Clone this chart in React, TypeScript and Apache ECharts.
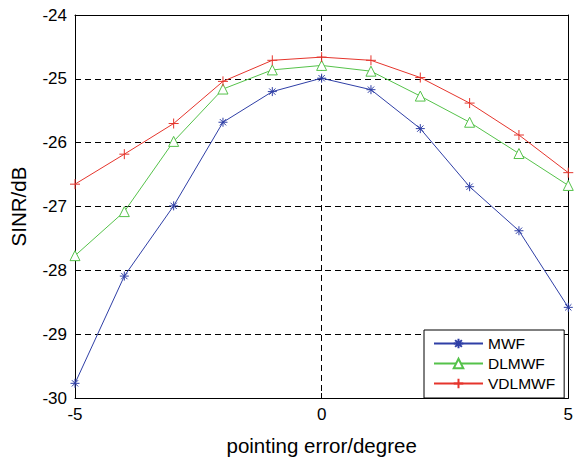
import React, { useEffect, useRef } from "react";
import * as echarts from "echarts";

const xValues = [-5, -4, -3, -2, -1, 0, 1, 2, 3, 4, 5];
const mwf = [-29.77, -28.09, -26.99, -25.68, -25.2, -24.99, -25.17, -25.78, -26.69, -27.38, -28.58];
const dlmwf = [-27.77, -27.08, -25.98, -25.16, -24.86, -24.79, -24.88, -25.27, -25.68, -26.17, -26.67];
const vdlmwf = [-26.65, -26.18, -25.7, -25.04, -24.71, -24.66, -24.71, -24.98, -25.38, -25.88, -26.47];
const seriesNames = ["MWF", "DLMWF", "VDLMWF"];

const FONT = "Liberation Sans, Arial, Helvetica, sans-serif";
const asterisk = "path://M5,0L5,10M0,5L10,5M1.5,1.5L8.5,8.5M1.5,8.5L8.5,1.5";
const plus = "path://M5,0L5,10M0,5L10,5";

export default function App() {
  const ref = useRef<HTMLDivElement>(null);
  useEffect(() => {
    if (!ref.current) return;
    const chart = echarts.init(ref.current, undefined, { renderer: "svg" });
    const pair = (ys: number[]) => xValues.map((x, i) => [x, ys[i]]);
    const axisLine = { show: true, onZero: false, lineStyle: { color: "#000", width: 1 } };
    const tick = { show: true, inside: true, length: 5, lineStyle: { color: "#000" } };
    const split = { show: true, lineStyle: { color: "#000", type: [6, 4] as any, width: 1 } };
    const mk = (name: string, data: number[], color: string, symbol: string, size: number, hollow: boolean) => ({
      name,
      type: "line",
      data: pair(data),
      symbol,
      symbolSize: size,
      showAllSymbol: true,
      lineStyle: { color, width: 1 },
      itemStyle: { color: hollow ? "#fff" : color, borderColor: color, borderWidth: 1 },
      emphasis: { disabled: true },
    });
    chart.setOption({
      animation: false,
      backgroundColor: "#fff",
      textStyle: { fontFamily: FONT },
      grid: { left: 75, top: 15, right: 7, bottom: 58, containLabel: false },
      xAxis: [
        {
          type: "value",
          min: -5,
          max: 5,
          interval: 5,
          position: "bottom",
          axisLine,
          axisTick: tick,
          splitLine: split,
          axisLabel: { color: "#000", fontSize: 17, margin: 8, fontFamily: FONT },
          name: "pointing error/degree",
          nameLocation: "middle",
          nameGap: 37,
          nameTextStyle: { color: "#000", fontSize: 20.5, fontFamily: FONT },
        },
        {
          type: "value",
          min: -5,
          max: 5,
          interval: 5,
          position: "top",
          axisLine,
          axisTick: tick,
          splitLine: { show: false },
          axisLabel: { show: false },
        },
      ],
      yAxis: [
        {
          type: "value",
          min: -30,
          max: -24,
          interval: 1,
          position: "left",
          axisLine,
          axisTick: tick,
          splitLine: split,
          axisLabel: { color: "#000", fontSize: 17, margin: 8, fontFamily: FONT },
          name: "SINR/dB",
          nameLocation: "middle",
          nameGap: 46,
          nameTextStyle: { color: "#000", fontSize: 20.5, fontFamily: FONT },
        },
        {
          type: "value",
          min: -30,
          max: -24,
          interval: 1,
          position: "right",
          axisLine,
          axisTick: tick,
          splitLine: { show: false },
          axisLabel: { show: false },
        },
      ],
      legend: {
        data: seriesNames,
        orient: "vertical",
        left: 424,
        top: 330,
        padding: [5, 9, 6, 9],
        itemWidth: 49,
        itemHeight: 12,
        itemGap: 3,
        backgroundColor: "#fff",
        borderColor: "#000",
        borderWidth: 1,
        textStyle: { color: "#000", fontSize: 15.5, lineHeight: 17, fontFamily: FONT, padding: [0, 0, 0, 0] },
      },
      series: [
        mk(seriesNames[0], mwf, "#2f3fa6", asterisk, 9, false),
        mk(seriesNames[1], dlmwf, "#55c24a", "triangle", 10, true),
        mk(seriesNames[2], vdlmwf, "#e5352c", plus, 10, false),
      ],
    });
    return () => chart.dispose();
  }, []);
  return (
    <div
      ref={ref}
      style={{ position: "fixed", left: 0, top: 0, width: 576, height: 461, background: "#fff" }}
    />
  );
}
